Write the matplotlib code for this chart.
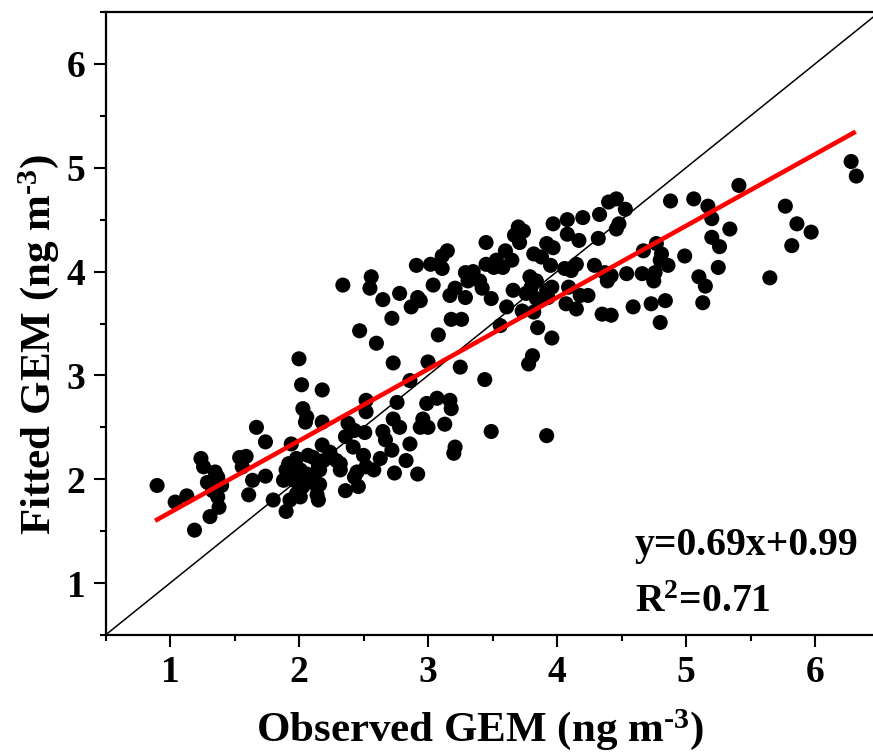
import numpy as np
import matplotlib
matplotlib.use('Agg')
import matplotlib.pyplot as plt
from matplotlib.ticker import MultipleLocator

# observed / fitted GEM (ng m-3)
obs = [
    # x < 2
    0.90, 1.04, 1.13, 1.19, 1.24, 1.26, 1.29, 1.31, 1.33, 1.35, 1.37, 1.40, 1.37, 1.38,
    1.54, 1.59, 1.56, 1.64, 1.61, 1.67, 1.74, 1.74, 1.80, 1.90, 1.94, 1.92, 1.96, 1.98,
    1.98, 1.93, 1.90, 1.88, 1.98,
    # 2 - 2.5, lower
    2.00, 2.02, 2.18, 2.03, 2.06, 2.05, 2.07, 2.03, 2.01, 2.11, 2.14, 2.18, 2.18, 2.19,
    2.15, 2.11, 2.16, 2.14, 2.15, 2.01, 2.06, 2.24, 2.29, 2.36, 2.32, 2.32, 2.38, 2.43,
    2.42, 2.43, 2.46, 2.16, 2.36,
    # 2.5 - 3.5, lower
    2.47, 2.60, 3.08, 2.73, 3.00, 3.25, 3.44, 2.86, 2.52, 2.76, 2.99, 3.07, 3.17, 3.18,
    2.52, 2.73, 2.78, 2.96, 2.94, 3.00, 3.13, 3.49, 3.21, 3.20, 2.51, 2.65, 2.67, 2.86,
    2.72, 2.83, 2.74, 2.92, 2.63, 2.58, 2.50, 2.45, 2.52,
    # 2.3 - 3.5, upper
    2.34, 2.56, 2.55, 2.65, 2.78, 2.87, 2.92, 2.94, 2.72, 2.91, 3.02, 3.11, 3.04, 3.11,
    3.15, 3.17, 3.21, 3.29, 3.18, 3.26, 3.29, 3.35, 3.40, 3.42, 3.45, 3.51, 3.45, 3.49,
    3.31,
    # 3.5 - 5
    4.88, 4.46, 4.40, 4.53, 4.33, 4.20, 4.08, 3.97, 4.48, 4.46, 3.70, 3.74, 3.67, 4.08,
    4.17, 4.32, 3.60, 3.71, 3.92, 3.97, 3.82, 3.88, 3.53, 3.65, 3.58, 3.95, 4.06, 4.15,
    4.11, 4.29, 4.37, 4.42, 4.54, 4.66, 4.76, 4.86, 4.67, 4.77, 4.81, 4.80, 4.75, 4.39,
    3.79, 3.84, 3.80, 3.92, 4.09, 3.96, 3.76, 3.66, 3.61, 3.73, 3.82, 3.84, 3.93, 4.07,
    4.15, 4.24, 4.18, 4.35, 4.42, 4.59, 4.73, 4.84, 4.80, 3.85, 3.96, 3.56, 3.81, 3.78,
    3.92,
    # x > 5
    6.28, 6.32, 5.41, 5.06, 5.17, 5.20, 5.34, 5.20, 5.26, 4.99, 5.25, 5.10, 5.15, 5.13,
    5.77, 5.86, 5.97, 5.82, 5.65,
]
fit = [
    1.94, 1.78, 1.84, 1.51, 2.20, 2.12, 1.97, 1.64, 1.89, 2.07, 2.02, 1.94, 1.83, 1.73,
    2.21, 2.22, 2.12, 1.99, 1.85, 2.50, 2.03, 2.36, 1.80, 1.69, 2.34, 2.15, 1.99, 2.09,
    1.86, 1.80, 2.09, 1.99, 2.20,
    3.16, 2.91, 2.86, 2.68, 2.60, 2.55, 2.23, 1.93, 1.83, 1.99, 1.85, 2.55, 2.33, 2.18,
    2.12, 2.21, 2.09, 1.93, 1.80, 2.09, 2.05, 2.26, 2.18, 1.89, 2.09, 2.15, 2.54, 2.47,
    2.31, 2.02, 1.93, 1.95, 2.41,
    3.43, 3.31, 3.39, 3.12, 3.13, 3.08, 2.96, 2.95, 2.76, 2.74, 2.73, 2.78, 2.76, 2.68,
    2.65, 2.58, 2.50, 2.58, 2.50, 2.50, 2.53, 2.46, 2.31, 2.25, 2.45, 2.46, 2.38, 2.34,
    2.28, 2.18, 2.06, 2.05, 2.20, 2.09, 2.23, 2.07, 2.12,
    3.87, 3.95, 3.84, 3.73, 3.79, 3.66, 3.75, 3.72, 3.55, 4.06, 4.07, 4.03, 3.87, 4.15,
    4.20, 3.77, 3.84, 3.75, 3.54, 3.54, 3.99, 4.00, 3.91, 3.84, 4.07, 4.04, 4.28, 3.74,
    3.91,
    4.68, 4.70, 4.67, 4.60, 4.55, 4.52, 4.50, 4.46, 4.46, 4.41, 4.43, 4.39, 4.35, 4.36,
    4.30, 4.32, 4.20, 4.28, 4.27, 4.23, 4.17, 4.14, 4.11, 4.11, 4.04, 4.06, 4.03, 4.07,
    4.01, 4.06, 3.99, 3.96, 3.98, 3.98, 3.99, 4.06, 4.20, 4.27, 4.17, 4.11, 3.91, 3.91,
    3.95, 3.91, 3.85, 3.82, 3.85, 3.85, 3.79, 3.82, 3.66, 3.62, 3.61, 3.74, 3.75, 3.69,
    3.64, 3.77, 3.77, 3.59, 3.58, 3.66, 3.69, 3.72, 3.51, 3.46, 3.36, 3.48, 3.19, 3.11,
    2.42,
    5.06, 4.92, 4.83, 4.70, 4.63, 4.51, 4.41, 4.33, 4.24, 4.15, 4.04, 3.95, 3.86, 3.70,
    4.63, 4.46, 4.38, 4.25, 3.94,
]

# regression and text
slope, intercept = 0.69, 0.99
fit_x_range = [0.9, 6.3]
eq_text = 'y=0.69x+0.99'
r2_text = r'R$^{\text{2}}$=0.71'
x_label = r'Observed GEM (ng m$^{\text{-3}}$)'
y_label = r'Fitted GEM (ng m$^{\text{-3}}$)'

plt.rcParams['font.family'] = ['Liberation Serif', 'DejaVu Serif']
plt.rcParams['font.weight'] = 'bold'
plt.rcParams['mathtext.fontset'] = 'custom'
plt.rcParams['mathtext.rm'] = 'Liberation Serif:bold'
plt.rcParams['mathtext.it'] = 'Liberation Serif:bold:italic'
plt.rcParams['mathtext.bf'] = 'Liberation Serif:bold'
plt.rcParams['mathtext.default'] = 'rm'

fig = plt.figure(figsize=(8.73, 7.52), dpi=100)
# right spine falls just outside the picture, as in the original crop
ax = fig.add_axes([105.5 / 873, 117 / 752, 774 / 873, 623 / 752])

ax.set_xlim(0.5, 6.5)
ax.set_ylim(0.5, 6.5)

# 1:1 line
ax.plot([0.5, 6.5], [0.5, 6.5], color='black', linewidth=1.1, zorder=1)

ax.scatter(obs, fit, s=118, color='black', edgecolors='none', zorder=2)

# fitted line
fx = np.array(fit_x_range)
ax.plot(fx, slope * fx + intercept, color='red', linewidth=3.3, zorder=3)

ax.text(4.605, 1.27, eq_text, fontsize=28.5, fontweight='bold', ha='left', va='baseline')
ax.text(4.605, 0.72, r2_text, fontsize=28.5, fontweight='bold', ha='left', va='baseline')

ax.xaxis.set_major_locator(MultipleLocator(1))
ax.xaxis.set_minor_locator(MultipleLocator(0.5))
ax.yaxis.set_major_locator(MultipleLocator(1))
ax.yaxis.set_minor_locator(MultipleLocator(0.5))
ax.tick_params(which='both', direction='out', top=False, right=False, width=1.5)
ax.tick_params(which='major', length=8.5, labelsize=27, pad=6)
ax.tick_params(which='minor', length=4.5)
for lab in ax.get_xticklabels() + ax.get_yticklabels():
    lab.set_fontweight('bold')

for sp in ax.spines.values():
    sp.set_linewidth(1.6)

ax.set_xlabel(x_label, fontsize=31, fontweight='bold')
ax.set_ylabel(y_label, fontsize=31, fontweight='bold')
ax.xaxis.set_label_coords(0.484, -0.115)
ax.yaxis.set_label_coords(-0.057, 0.467)

fig.savefig('out.png', dpi=100)
